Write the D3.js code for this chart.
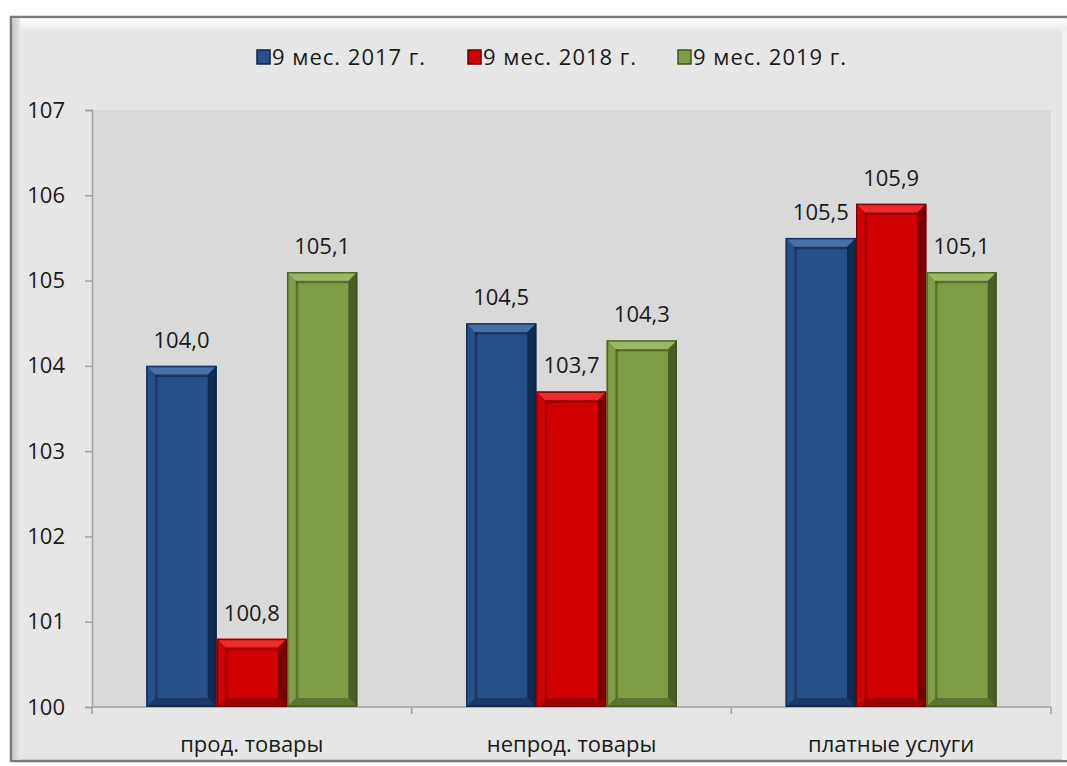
<!DOCTYPE html>
<html>
<head>
<meta charset="utf-8">
<script src="https://cdn.jsdelivr.net/npm/d3@7"></script>
<style>
  body { margin: 0; background: #ffffff; }
  svg { display: block; font-family: "Open Sans", "Noto Sans", sans-serif; }
</style>
</head>
<body>
<div id="chart"></div>
<script>
const categories = ["прод. товары", "непрод. товары", "платные услуги"];
const seriesNames = ["9 мес. 2017 г.", "9 мес. 2018 г.", "9 мес. 2019 г."];
const values2017 = [104.0, 104.5, 105.5];
const values2018 = [100.8, 103.7, 105.9];
const values2019 = [105.1, 104.3, 105.1];
const yTicks = [100, 101, 102, 103, 104, 105, 106, 107];

const seriesValues = [values2017, values2018, values2019];
const colors = ["#26508a", "#d20000", "#7f9d45"];
const darks = ["#0f2547", "#6b0000", "#3f5220"];
const lights = ["#4670a8", "#ee2a2a", "#9cb865"];

const width = 1067, height = 766;
const plot = { left: 92, right: 1051, top: 110, bottom: 707 };

const svg = d3.select("#chart").append("svg")
    .attr("width", width)
    .attr("height", height);

const defs = svg.append("defs");
const topGlow = defs.append("linearGradient")
    .attr("id", "topGlow").attr("x1", 0).attr("y1", 0).attr("x2", 0).attr("y2", 1);
topGlow.append("stop").attr("offset", "0%").attr("stop-color", "#ffffff");
topGlow.append("stop").attr("offset", "100%").attr("stop-color", "#e6e6e6");

const leftGlow = defs.append("linearGradient")
    .attr("id", "leftGlow").attr("x1", 0).attr("y1", 0).attr("x2", 1).attr("y2", 0);
leftGlow.append("stop").attr("offset", "0%").attr("stop-color", "#c4c4c4");
leftGlow.append("stop").attr("offset", "100%").attr("stop-color", "#e6e6e6");

// chart frame
svg.append("rect")
    .attr("x", 11).attr("y", 17)
    .attr("width", 1070).attr("height", 744)
    .attr("fill", "#e6e6e6")
    .attr("stroke", "#7a7a7a")
    .attr("stroke-width", 2.5);
svg.append("rect")
    .attr("x", 12).attr("y", 18.5)
    .attr("width", 1060).attr("height", 14)
    .attr("fill", "url(#topGlow)");
svg.append("rect")
    .attr("x", 12).attr("y", 18)
    .attr("width", 8).attr("height", 742)
    .attr("fill", "url(#leftGlow)");
svg.append("rect")
    .attr("x", 1062).attr("y", 30)
    .attr("width", 5).attr("height", 730)
    .attr("fill", "#f2f2f2");

// plot area
svg.append("rect")
    .attr("x", plot.left).attr("y", plot.top)
    .attr("width", plot.right - plot.left).attr("height", plot.bottom - plot.top)
    .attr("fill", "#d9d9d9");

const x = d3.scaleBand()
    .domain(categories)
    .range([plot.left, plot.right])
    .paddingInner(0.34)
    .paddingOuter(0.17);

const xs = d3.scaleBand()
    .domain(d3.range(seriesNames.length))
    .range([0, x.bandwidth()]);

const y = d3.scaleLinear()
    .domain([100, 107])
    .range([plot.bottom, plot.top]);

// y axis
const yAxis = svg.append("g")
    .attr("transform", `translate(${plot.left},0)`)
    .call(d3.axisLeft(y).tickValues(yTicks).tickSize(7).tickPadding(20).tickFormat(d3.format("d")));
yAxis.select(".domain").attr("stroke", "#a0a0a0").attr("stroke-width", 1.5);
yAxis.selectAll(".tick line").attr("stroke", "#a0a0a0").attr("stroke-width", 1.5);
yAxis.selectAll("text")
    .attr("fill", "#1a1a1a")
    .style("font-size", "22px")
    .style("font-family", "'Open Sans', sans-serif");

// x axis baseline and boundary ticks
const step = x.step();
const boundaries = d3.range(categories.length + 1).map(i => plot.left + i * step);
svg.append("line")
    .attr("x1", plot.left).attr("x2", plot.right)
    .attr("y1", y(100)).attr("y2", y(100))
    .attr("stroke", "#a0a0a0").attr("stroke-width", 1.5);
svg.selectAll(".xtick")
    .data(boundaries)
    .enter().append("line")
    .attr("class", "xtick")
    .attr("x1", d => d).attr("x2", d => d)
    .attr("y1", y(100)).attr("y2", y(100) + 7)
    .attr("stroke", "#a0a0a0").attr("stroke-width", 1.5);

svg.selectAll(".xlabel")
    .data(categories)
    .enter().append("text")
    .attr("class", "xlabel")
    .attr("x", d => x(d) + x.bandwidth() / 2)
    .attr("y", 752)
    .attr("text-anchor", "middle")
    .attr("fill", "#1a1a1a")
    .style("font-size", "22px")
    .text(d => d);

// bars with bevel
const bars = [];
seriesValues.forEach((vals, s) => {
    vals.forEach((v, i) => {
        bars.push({ s, cat: categories[i], v });
    });
});

const fmt = v => d3.format(".1f")(v).replace(".", ",");
const bevel = 9;

const barG = svg.selectAll(".bar")
    .data(bars)
    .enter().append("g")
    .attr("class", "bar")
    .attr("transform", d => `translate(${x(d.cat) + xs(d.s)},${y(d.v)})`);

barG.each(function(d) {
    const g = d3.select(this);
    const w = xs.bandwidth();
    const h = y(100) - y(d.v);
    const b = Math.min(bevel, h / 2);
    g.append("rect")
        .attr("width", w).attr("height", h)
        .attr("fill", colors[d.s]);
    // top face
    g.append("path")
        .attr("d", `M0,0L${w},0L${w - b},${b}L${b},${b}Z`)
        .attr("fill", lights[d.s]);
    // left face
    g.append("path")
        .attr("d", `M0,0L${b},${b}L${b},${h - b}L0,${h}Z`)
        .attr("fill", colors[d.s]);
    // right face
    g.append("path")
        .attr("d", `M${w},0L${w},${h}L${w - b},${h - b}L${w - b},${b}Z`)
        .attr("fill", darks[d.s])
        .attr("opacity", 0.85);
    // bottom face
    g.append("path")
        .attr("d", `M0,${h}L${w},${h}L${w - b},${h - b}L${b},${h - b}Z`)
        .attr("fill", darks[d.s])
        .attr("opacity", 0.55);
    // inner dark shade edges
    g.append("line")
        .attr("x1", b).attr("x2", w - b)
        .attr("y1", b + 1).attr("y2", b + 1)
        .attr("stroke", darks[d.s]).attr("stroke-width", 2.5).attr("opacity", 0.6);
    g.append("line")
        .attr("x1", b + 1).attr("x2", b + 1)
        .attr("y1", b).attr("y2", h - b)
        .attr("stroke", darks[d.s]).attr("stroke-width", 2.5).attr("opacity", 0.55);
    g.append("rect")
        .attr("x", 0.75).attr("y", 0.75)
        .attr("width", w - 1.5).attr("height", h - 1.5)
        .attr("fill", "none")
        .attr("stroke", darks[d.s]).attr("stroke-width", 1.5).attr("opacity", 0.8);
});

svg.selectAll(".vlabel")
    .data(bars)
    .enter().append("text")
    .attr("class", "vlabel")
    .attr("x", d => x(d.cat) + xs(d.s) + xs.bandwidth() / 2)
    .attr("y", d => y(d.v) - 18)
    .attr("text-anchor", "middle")
    .attr("fill", "#1a1a1a")
    .style("font-size", "22px")
    .text(d => fmt(d.v));

// legend
const legendX = [257, 468, 678];
const legend = svg.selectAll(".legend")
    .data(seriesNames)
    .enter().append("g")
    .attr("class", "legend")
    .attr("transform", (d, i) => `translate(${legendX[i]},50)`);
legend.append("rect")
    .attr("width", 13).attr("height", 14)
    .attr("fill", (d, i) => colors[i])
    .attr("stroke", (d, i) => darks[i]).attr("stroke-width", 1.5);
legend.append("text")
    .attr("x", 15).attr("y", 15)
    .attr("fill", "#1a1a1a")
    .style("font-size", "22px")
    .style("letter-spacing", "1px")
    .text(d => d);
</script>
</body>
</html>
